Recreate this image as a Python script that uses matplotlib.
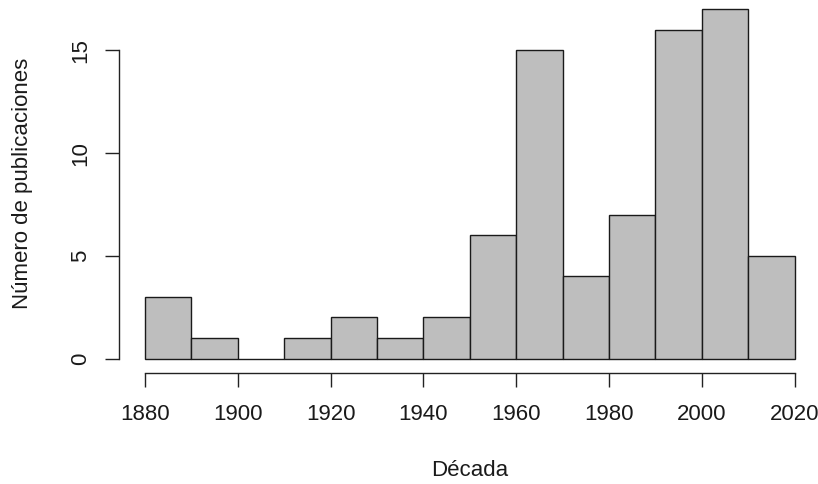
import matplotlib
matplotlib.use("Agg")
import matplotlib.pyplot as plt
import numpy as np

# Data
decade_edges = [1880, 1890, 1900, 1910, 1920, 1930, 1940, 1950, 1960, 1970, 1980, 1990, 2000, 2010, 2020]
counts = [3, 1, 0, 1, 2, 1, 2, 6, 15, 4, 7, 16, 17, 5]
x_ticks = [1880, 1900, 1920, 1940, 1960, 1980, 2000, 2020]
y_ticks = [0, 5, 10, 15]
x_label = "Década"
y_label = "Número de publicaciones"

plt.rcParams['font.family'] = ['Liberation Sans', 'DejaVu Sans']
FS = 16

W, H = 818, 484
fig = plt.figure(figsize=(W / 100, H / 100), dpi=100)

# plot region in pixels (R-style with 4% padding)
left_px, right_px = 119.0, 820.6
bottom_px, top_px = 372.5, -4.7
ax = fig.add_axes([left_px / W, 1 - bottom_px / H,
                   (right_px - left_px) / W, (bottom_px - top_px) / H])

xmin, xmax = decade_edges[0], decade_edges[-1]
xpad = 0.04 * (xmax - xmin)
ax.set_xlim(xmin - xpad, xmax + xpad)
ymax = max(counts)
ypad = 0.04 * ymax
ax.set_ylim(-ypad, ymax + ypad)

edges = np.array(decade_edges)
ax.bar(edges[:-1], counts, width=np.diff(edges), align='edge',
       color='#BEBEBE', edgecolor='#1a1a1a', linewidth=1.0)

for s in ['top', 'right']:
    ax.spines[s].set_visible(False)
for s in ['left', 'bottom']:
    ax.spines[s].set_linewidth(1.0)
    ax.spines[s].set_color('#222222')
ax.spines['bottom'].set_bounds(x_ticks[0], x_ticks[-1])
ax.spines['left'].set_bounds(y_ticks[0], y_ticks[-1])

ax.set_xticks(x_ticks)
ax.set_yticks(y_ticks)
ax.tick_params(axis='both', length=10, width=1.0, color='#222222',
               labelsize=FS, labelcolor='#1a1a1a')
ax.tick_params(axis='x', pad=12.5)
ax.tick_params(axis='y', pad=10)
for lab in ax.get_yticklabels():
    lab.set_rotation(90)
    lab.set_va('center')

fig.text(470 / W, 1 - 470 / H, x_label, ha='center', va='center',
         fontsize=FS, color='#1a1a1a')
fig.text(23 / W, 1 - 183 / H, y_label, ha='center', va='center',
         rotation=90, fontsize=FS, color='#1a1a1a')

fig.savefig("out.png", dpi=100)
